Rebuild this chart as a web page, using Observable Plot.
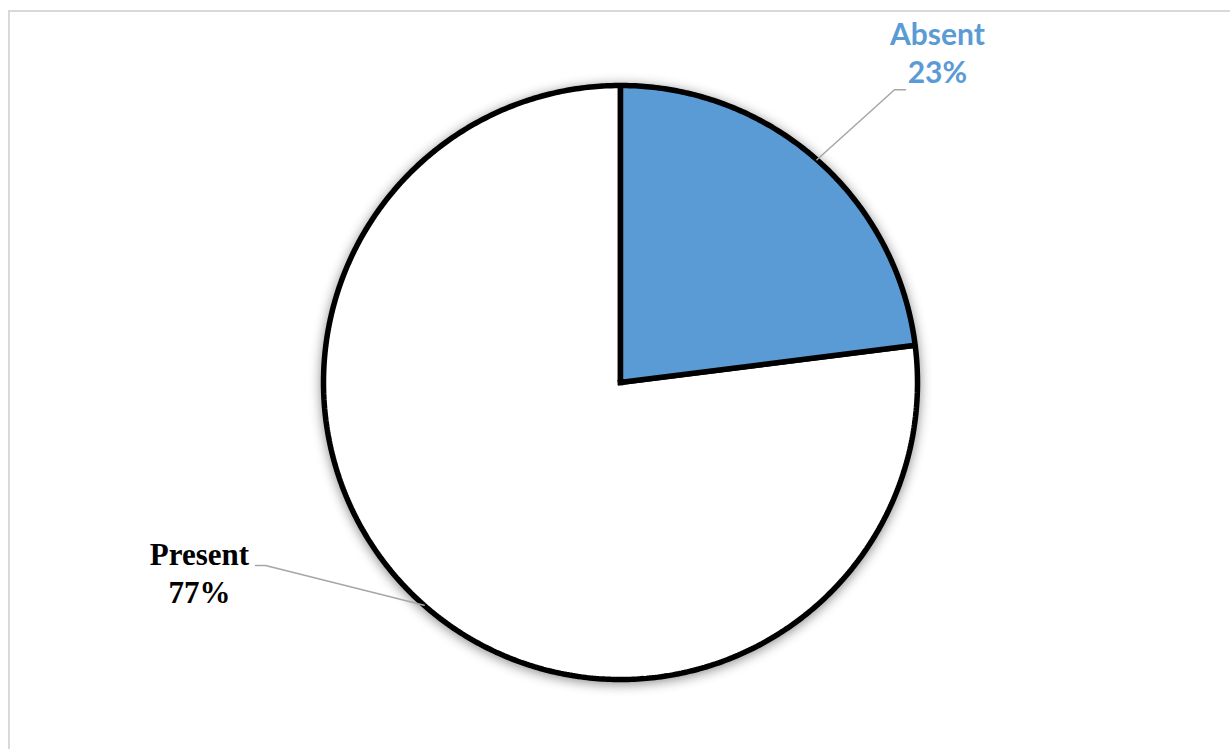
<!DOCTYPE html>
<html>
<head>
<meta charset="utf-8">
<script src="https://cdn.jsdelivr.net/npm/d3@7"></script>
<script src="https://cdn.jsdelivr.net/npm/@observablehq/plot@0.6"></script>
<style>
  html, body { margin: 0; padding: 0; background: #fff; overflow: hidden; }
  #frame { position: absolute; left: 8px; top: 10px; width: 1240px; height: 760px;
           border-top: 2px solid #d9d9d9; border-left: 2px solid #d9d9d9; box-sizing: border-box; }
  #chart { position: absolute; left: 0; top: 0; }
</style>
</head>
<body>
<div id="frame"></div>
<div id="chart"></div>
<script>
// ---- data ----
const categories = ["Absent", "Present"];
const values = [23, 77];
const sliceColors = ["#5B9BD5", "#FFFFFF"];
const labelColors = ["#5B9BD5", "#000000"];
const labelFonts = ["Lato, 'Open Sans', sans-serif", "'Liberation Serif', 'Times New Roman', serif"];

// ---- layout (unit-radius coordinates, y up) ----
const labelAnchor = { Absent: [1.067, 1.007], Present: [-1.4175, -0.744] };   // last-line baseline, text centre
const leaderElbow = { Absent: [0.9226, 0.9855], Present: [-1.1953, -0.6162] };
const leaderEnd   = { Absent: [0.9596, 0.9855], Present: [-1.229, -0.6162] };

const total = d3.sum(values);
const pie = d3.pie().sort(null).value(d => d.value)(categories.map((c, i) => ({category: c, value: values[i]})));

// slice polygons from the pie angles (0 at 12 o'clock, clockwise)
const slicePts = [];
for (const s of pie) {
  const c = s.data.category;
  slicePts.push({category: c, x: 0, y: 0});
  const n = Math.max(2, Math.ceil((s.endAngle - s.startAngle) / 0.01));
  for (let k = 0; k <= n; k++) {
    const a = s.startAngle + (s.endAngle - s.startAngle) * k / n;
    slicePts.push({category: c, x: Math.sin(a), y: Math.cos(a)});
  }
  slicePts.push({category: c, x: 0, y: 0});
}
// draw the white (large) slice first
slicePts.sort((a, b) => (a.category === "Present" ? 0 : 1) - (b.category === "Present" ? 0 : 1));

// leader lines: from slice mid-angle on the rim to the elbow and the label
const leaders = [];
for (const s of pie) {
  const c = s.data.category;
  const m = (s.startAngle + s.endAngle) / 2;
  leaders.push({category: c, x: Math.sin(m), y: Math.cos(m)});
  leaders.push({category: c, x: leaderElbow[c][0], y: leaderElbow[c][1]});
  leaders.push({category: c, x: leaderEnd[c][0], y: leaderEnd[c][1]});
}

const labels = pie.map((s, i) => ({
  category: s.data.category,
  text: `${s.data.category}\n${Math.round(s.data.value / total * 100)}%`,
  x: labelAnchor[s.data.category][0],
  y: labelAnchor[s.data.category][1],
  color: labelColors[i],
  font: labelFonts[i]
}));

const plot = Plot.plot({
  width: 1230,
  height: 749,
  marginLeft: 323,
  marginRight: 313,
  marginTop: 85,
  marginBottom: 70,
  x: {domain: [-1, 1], axis: null},
  y: {domain: [-1, 1], axis: null},
  color: {domain: categories, range: sliceColors},
  style: {background: "transparent", overflow: "visible"},
  marks: [
    Plot.line(slicePts, {x: "x", y: "y", z: "category", fill: "category",
      stroke: "#000", strokeWidth: 5.5, strokeLinejoin: "miter", strokeLinecap: "square", curve: "linear"}),
    Plot.line(leaders, {x: "x", y: "y", z: "category", stroke: "#a6a6a6", strokeWidth: 1.5}),
    Plot.text(labels.filter(d => d.category === "Absent"), {x: "x", y: "y", text: "text", fill: "color",
      fontFamily: labelFonts[0], fontWeight: "bold", fontSize: 30, lineHeight: 1.267,
      lineAnchor: "bottom", textAnchor: "middle"}),
    Plot.text(labels.filter(d => d.category === "Present"), {x: "x", y: "y", text: "text", fill: "color",
      fontFamily: labelFonts[1], fontWeight: "bold", fontSize: 31, lineHeight: 1.226,
      lineAnchor: "bottom", textAnchor: "middle"})
  ]
});
const sliceGroup = plot.querySelector('g[aria-label="line"]');
if (sliceGroup) sliceGroup.style.filter = "drop-shadow(0px 2px 6px rgba(0,0,0,0.45))";
document.getElementById("chart").appendChild(plot);
</script>
</body>
</html>
